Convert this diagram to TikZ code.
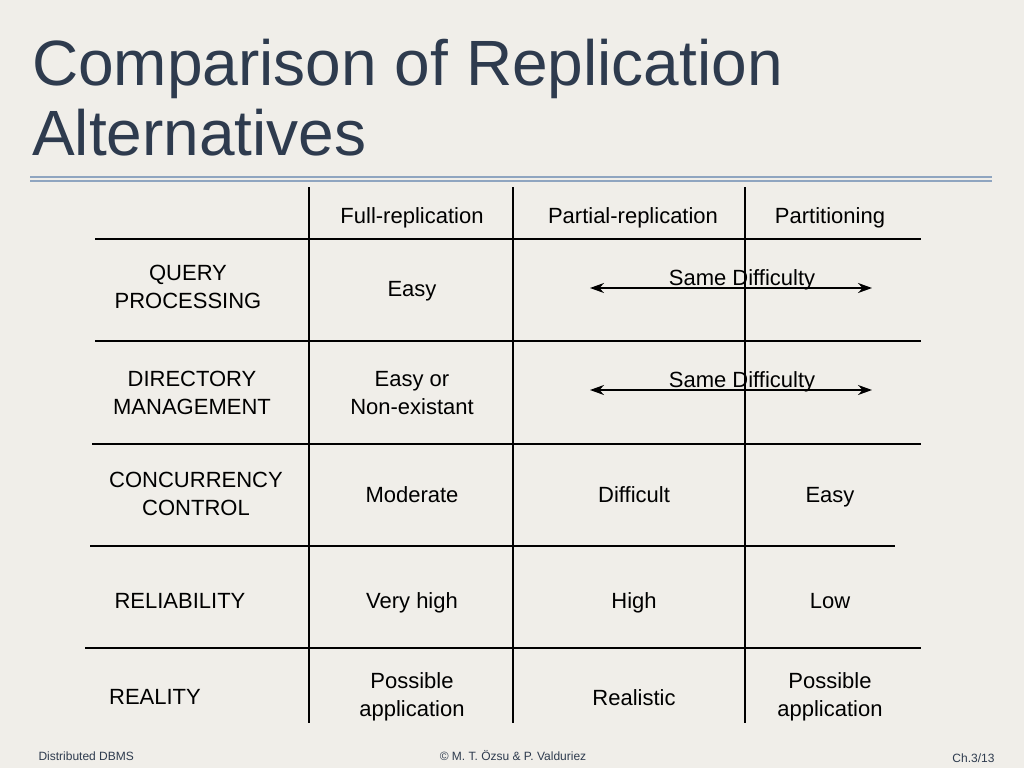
\documentclass[tikz,border=0pt]{standalone}
\usepackage{fontspec}
\setmainfont{Liberation Sans}
\usetikzlibrary{arrows.meta}
\definecolor{bg}{HTML}{F0EEE9}
\definecolor{ttl}{HTML}{2E3B4E}
\definecolor{rule}{HTML}{8FA5C0}
\begin{document}
\begin{tikzpicture}[x=1pt,y=-1pt,
  cell/.style={font=\fontsize{22}{28}\selectfont,align=center,text=black},
  one/.style={cell,anchor=base},
  foot/.style={font=\fontsize{12}{14}\selectfont,text=ttl},
  grid/.style={draw=black,line width=1.6pt}]
\fill[bg] (0,0) rectangle (1024,768);
\useasboundingbox (0,0) rectangle (1024,768);
\node[anchor=base west,align=left,text=ttl,font=\fontsize{64}{70}\selectfont,inner sep=0] (title) at (32,155) {Comparison of Replication\\Alternatives};
\draw[rule,line width=2pt] (30,177) -- (992,177);
\draw[rule,line width=2pt] (30,181) -- (992,181);
\draw[grid] (309,187) -- (309,723);
\draw[grid] (513,187) -- (513,723);
\draw[grid] (745,187) -- (745,723);
\draw[grid] (95,239) -- (921,239);
\draw[grid] (95,341) -- (921,341);
\draw[grid] (92,444) -- (921,444);
\draw[grid] (90,546) -- (895,546);
\draw[grid] (85,648) -- (921,648);
\node[one] (h1) at (412,223) {Full-replication};
\node[one] (h2) at (633,223) {Partial-replication};
\node[one] (h3) at (830,223) {Partitioning};
\node[cell] (r1) at (188,287) {QUERY\\PROCESSING};
\node[cell] (r2) at (192,393) {DIRECTORY\\MANAGEMENT};
\node[cell] (r3) at (196,494) {CONCURRENCY\\CONTROL};
\node[one] (r4) at (180,608) {RELIABILITY};
\node[one] (r5) at (155,704) {REALITY};
\node[one] (a1) at (412,296) {Easy};
\node[cell] (a2) at (412,393) {Easy or\\Non-existant};
\node[one] (a3) at (412,502) {Moderate};
\node[one] (a4) at (412,608) {Very high};
\node[cell] (a5) at (412,697) {Possible\\application};
\node[one] (s1) at (742,285) {Same Difficulty};
\node[one] (s2) at (742,387) {Same Difficulty};
\coordinate (l1) at (590,288); \coordinate (e1) at (872,288);
\coordinate (l2) at (590,390); \coordinate (e2) at (872,390);
\draw[line width=1.8pt,{Stealth[length=14pt,width=10pt]}-{Stealth[length=14pt,width=10pt]}] (l1) -- (e1);
\draw[line width=1.8pt,{Stealth[length=14pt,width=10pt]}-{Stealth[length=14pt,width=10pt]}] (l2) -- (e2);
\node[one] (b3) at (634,502) {Difficult};
\node[one] (b4) at (634,608) {High};
\node[one] (b5) at (634,705) {Realistic};
\node[one] (c3) at (830,502) {Easy};
\node[one] (c4) at (830,608) {Low};
\node[cell] (c5) at (830,697) {Possible\\application};
\node[foot,anchor=west] (f1) at (35,756) {Distributed DBMS};
\node[foot] (f2) at (513,756) {© M. T. Özsu \& P. Valduriez};
\node[foot,anchor=east] (f3) at (998,758) {Ch.3/13};
\end{tikzpicture}
\end{document}
